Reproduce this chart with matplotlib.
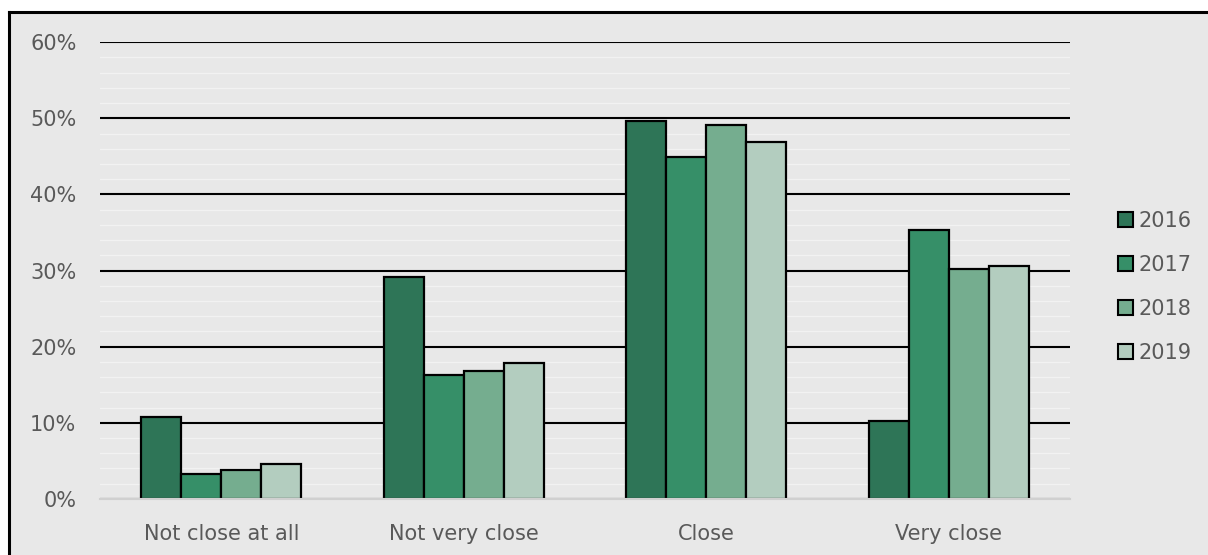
import numpy as np
import matplotlib.pyplot as plt
from matplotlib.patches import Rectangle
from matplotlib.lines import Line2D
from matplotlib.ticker import MultipleLocator, FuncFormatter

categories = ['Not close at all', 'Not very close', 'Close', 'Very close']
years = ['2016', '2017', '2018', '2019']
v2016 = [10.8, 29.1, 49.6, 10.2]
v2017 = [3.3, 16.3, 44.9, 35.3]
v2018 = [3.8, 16.8, 49.1, 30.2]
v2019 = [4.6, 17.8, 46.9, 30.6]
colors = ['#2e7557', '#368f68', '#75ad8f', '#b3cdbf']

bg = '#e8e8e8'
txt = '#595959'
plt.rcParams['font.family'] = ['DejaVu Sans']

fig = plt.figure(figsize=(12.08, 5.55), dpi=100)
fig.patch.set_facecolor('white')

# gray panel with black border on top and left only
x0, y0 = 9 / 1208, 0.0
y1 = 1 - 12 / 555
fig.add_artist(Rectangle((x0, y0), 1 - x0, y1, transform=fig.transFigure,
                         facecolor=bg, edgecolor='none', zorder=0))
fig.add_artist(Line2D([x0, x0], [y0, y1], transform=fig.transFigure, color='black', linewidth=2.2))
fig.add_artist(Line2D([x0, 1], [y1, y1], transform=fig.transFigure, color='black', linewidth=2.2))

ax = fig.add_axes([0.0828, 0.101, 0.803, 0.823])
ax.set_facecolor(bg)

x = np.arange(len(categories))
w = 0.165
series = [v2016, v2017, v2018, v2019]
for i, vals in enumerate(series):
    ax.bar(x + (i - 1.5) * w, vals, width=w, color=colors[i], edgecolor='black',
           linewidth=1.6, label=years[i], zorder=3)

ax.set_xlim(-0.5, 3.5)
ax.set_ylim(0, 60)
ax.yaxis.set_major_locator(MultipleLocator(10))
ax.yaxis.set_minor_locator(MultipleLocator(2))
ax.yaxis.set_major_formatter(FuncFormatter(lambda v, p: f'{v:.0f}%'))
ax.grid(axis='y', which='minor', color='#f2f2f2', linewidth=1.0, zorder=1)
ax.grid(axis='y', which='major', color='black', linewidth=1.5, zorder=2)
ax.set_xticks(x)
ax.set_xticklabels(categories)
ax.tick_params(axis='both', which='both', length=0, labelsize=15, colors=txt)
ax.tick_params(axis='x', pad=18)
ax.tick_params(axis='y', pad=17)
for s in ['top', 'right', 'left']:
    ax.spines[s].set_visible(False)
ax.spines['bottom'].set_color('#d0d0d0')
ax.spines['bottom'].set_linewidth(1.5)
ax.spines['bottom'].set_zorder(4)

leg = ax.legend(loc='center left', bbox_to_anchor=(0.917, 0.483), bbox_transform=fig.transFigure,
                frameon=False, fontsize=15, handlelength=0.7, handleheight=0.7,
                handletextpad=0.3, labelspacing=1.15, labelcolor=txt, borderpad=0)
for h in leg.legend_handles:
    h.set_linewidth(1.5)

fig.savefig('out.png', dpi=100, facecolor='white')
